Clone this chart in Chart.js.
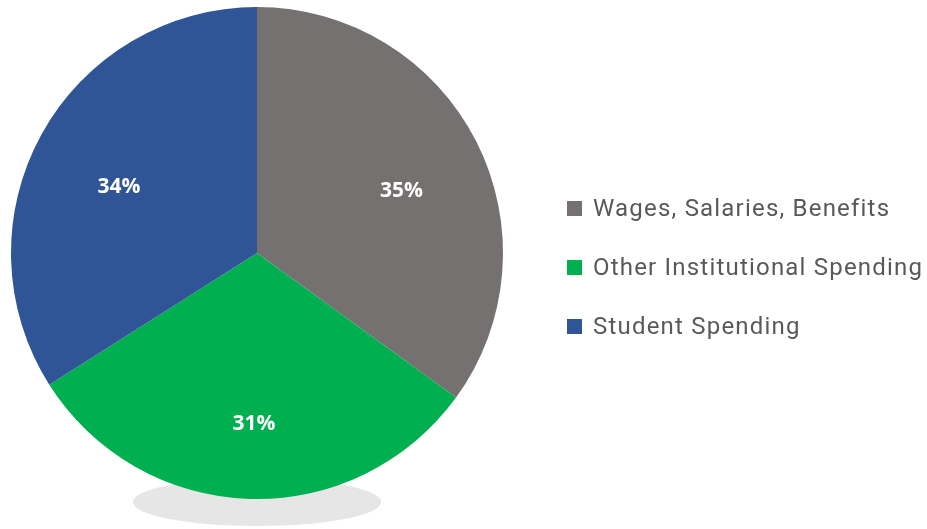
<!DOCTYPE html>
<html>
<head>
<meta charset="utf-8">
<script src="https://cdn.jsdelivr.net/npm/chart.js@4.4.0/dist/chart.umd.min.js"></script>
<style>
  body { margin: 0; background: #fff; }
  #wrap { position: relative; width: 927px; height: 529px; }
  #legend { position: absolute; left: 567px; top: 0; font-family: Roboto, "DejaVu Sans", sans-serif; color: #595959; font-size: 24px; letter-spacing: 1.2px; }
  .item { position: absolute; left: 0; white-space: nowrap; display: flex; align-items: center; height: 30px; }
  .box { width: 15px; height: 15px; margin-right: 11px; }
</style>
</head>
<body>
<div id="wrap">
  <canvas id="pie" width="927" height="529"></canvas>
  <div id="legend"></div>
</div>
<script>
const categories = ['Wages, Salaries, Benefits', 'Other Institutional Spending', 'Student Spending'];
const shares = [35, 31, 34];
const colors = ['#767171', '#00b050', '#2f5597'];

// grey shadow under the pie
const shadow = {
  id: 'shadow',
  beforeDraw(chart) {
    const a = chart.chartArea;
    const ctx = chart.ctx;
    const cx = (a.left + a.right) / 2;
    ctx.save();
    ctx.fillStyle = '#e6e6e6';
    ctx.beginPath();
    ctx.ellipse(cx, a.bottom + 3, 124, 24, 0, 0, Math.PI * 2);
    ctx.fill();
    ctx.restore();
  }
};

// white percentage labels inside slices
const sliceLabels = {
  id: 'sliceLabels',
  afterDatasetsDraw(chart) {
    const ctx = chart.ctx;
    const meta = chart.getDatasetMeta(0);
    ctx.save();
    ctx.fillStyle = '#ffffff';
    ctx.font = 'bold 21px "Open Sans", "DejaVu Sans", sans-serif';
    ctx.textAlign = 'center';
    ctx.textBaseline = 'middle';
    meta.data.forEach((arc, i) => {
      const p = arc.getProps(['x', 'y', 'startAngle', 'endAngle', 'outerRadius'], true);
      const mid = (p.startAngle + p.endAngle) / 2;
      const r = p.outerRadius * 0.65;
      ctx.fillText(shares[i] + '%', p.x + Math.cos(mid) * r + 2, p.y + Math.sin(mid) * r + 11);
    });
    ctx.restore();
  }
};

new Chart(document.getElementById('pie'), {
  type: 'pie',
  data: {
    labels: categories,
    datasets: [{
      data: shares,
      backgroundColor: colors,
      borderWidth: 0
    }]
  },
  options: {
    responsive: false,
    animation: false,
    layout: { padding: { left: 11, right: 424, top: 7, bottom: 30 } },
    plugins: {
      legend: { display: false },
      tooltip: { enabled: false }
    }
  },
  plugins: [shadow, sliceLabels]
});

const legend = document.getElementById('legend');
const rowY = [193, 252, 311];
categories.forEach((c, i) => {
  const row = document.createElement('div');
  row.className = 'item';
  row.style.top = rowY[i] + 'px';
  row.innerHTML = '<span class="box" style="background:' + colors[i] + '"></span><span>' + c + '</span>';
  legend.appendChild(row);
});
</script>
</body>
</html>
